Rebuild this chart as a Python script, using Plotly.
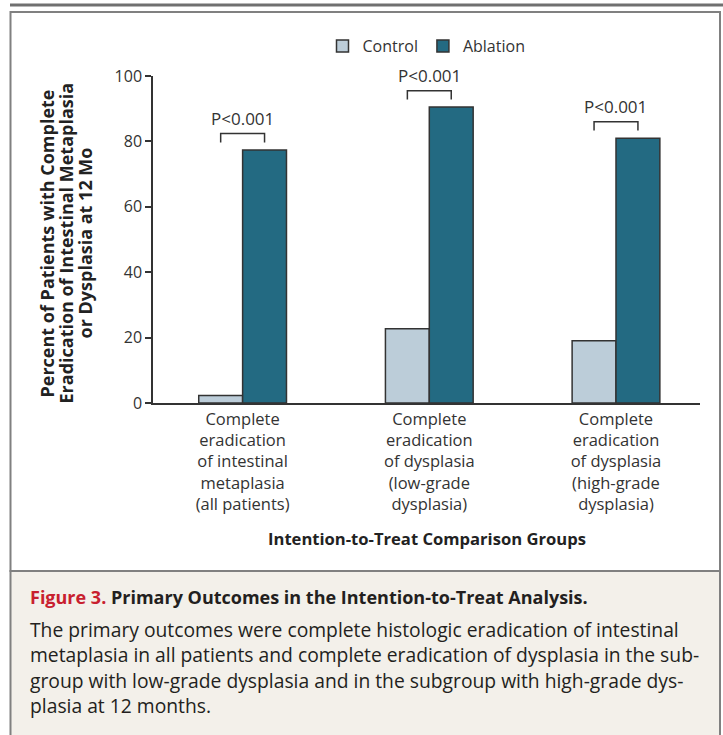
import plotly.graph_objects as go

# ---- data ----
categories = [
    "Complete<br>eradication<br>of intestinal<br>metaplasia<br>(all patients)",
    "Complete<br>eradication<br>of dysplasia<br>(low-grade<br>dysplasia)",
    "Complete<br>eradication<br>of dysplasia<br>(high-grade<br>dysplasia)",
]
control = [2.3, 22.7, 19.0]
ablation = [77.4, 90.5, 81.0]
p_labels = ["P<0.001", "P<0.001", "P<0.001"]
y_ticks = [0, 20, 40, 60, 80, 100]
y_title_lines = [
    "Percent of Patients with Complete",
    "Eradication of Intestinal Metaplasia",
    "or Dysplasia at 12 Mo",
]
x_title = "Intention-to-Treat Comparison Groups"
cap_label = "Figure 3."
cap_title = "Primary Outcomes in the Intention-to-Treat Analysis."
cap_lines = [
    "The primary outcomes were complete histologic eradication of intestinal",
    "metaplasia in all patients and complete eradication of dysplasia in the sub-",
    "group with low-grade dysplasia and in the subgroup with high-grade dys-",
    "plasia at 12 months.",
]

# ---- layout geometry (pixels) ----
W, H = 723, 735
L, R, T, B = 153, 23, 76, 332
PW, PH = W - L - R, H - T - B
FONT = "'Open Sans', 'Noto Sans', sans-serif"
TXT = "#333333"
BARGAP = 0.53


def px(x):
    return (x - L) / PW


def py(y):
    return (H - B - y) / PH


fig = go.Figure()
fig.add_trace(go.Bar(name="Control", x=categories, y=control,
                     marker=dict(color="#bccdd9", line=dict(color="#333333", width=1.5))))
fig.add_trace(go.Bar(name="Ablation", x=categories, y=ablation,
                     marker=dict(color="#236a82", line=dict(color="#333333", width=1.5))))

shapes = []
annotations = []
off = (1 - BARGAP) / 4
for i, (a, p) in enumerate(zip(ablation, p_labels)):
    yb = a + 5.0
    yt = yb - 2.7
    x0, x1 = i - off, i + off
    shapes.append(dict(type="path", xref="x", yref="y",
                       path=f"M {x0} {yt} L {x0} {yb} L {x1} {yb} L {x1} {yt}",
                       line=dict(color="#333333", width=1.5)))
    annotations.append(dict(x=i, y=yb, xref="x", yref="y", text=p, showarrow=False,
                            yanchor="bottom", yshift=2, font=dict(size=17, color=TXT, family=FONT)))

# frame: top rule, chart box, caption box
shapes.append(dict(type="line", xref="paper", yref="paper", x0=px(10), x1=px(723), y0=py(5), y1=py(5),
                   line=dict(color="#707070", width=3), layer="below"))
shapes.append(dict(type="rect", xref="paper", yref="paper", x0=px(10.5), x1=px(720), y0=py(571), y1=py(12),
                   line=dict(color="#808080", width=2), fillcolor="white", layer="below"))
shapes.append(dict(type="rect", xref="paper", yref="paper", x0=px(10.5), x1=px(720), y0=py(745), y1=py(571),
                   line=dict(color="#808080", width=2), fillcolor="#f3f0ea", layer="below"))

# y-axis title (three rotated lines)
for k, line in enumerate(y_title_lines):
    annotations.append(dict(xref="paper", yref="paper", x=px(46 + 19 * k), y=py(243.5), textangle=-90,
                            text=f"<b>{line}</b>", showarrow=False, xanchor="center", yanchor="middle",
                            font=dict(size=18, color="#222222", family=FONT)))
annotations.append(dict(xref="paper", yref="paper", x=px(427), y=py(538),
                        text=f"<b>{x_title}</b>", showarrow=False, xanchor="center", yanchor="middle",
                        font=dict(size=16.6, color="#222222", family=FONT)))

# caption
annotations.append(dict(xref="paper", yref="paper", x=px(28), y=py(597),
                        text=f"<b><span style='color:#c8202f'>{cap_label}</span> {cap_title}</b>",
                        showarrow=False, xanchor="left", yanchor="middle",
                        font=dict(size=18, color="#231f20", family=FONT)))
for k, line in enumerate(cap_lines):
    annotations.append(dict(xref="paper", yref="paper", x=px(28), y=py(629 + 25.5 * k),
                            text=line, showarrow=False, xanchor="left", yanchor="middle",
                            font=dict(size=19.3, color="#231f20", family=FONT)))

fig.update_layout(
    width=W, height=H,
    margin=dict(l=L, r=R, t=T, b=B),
    paper_bgcolor="white", plot_bgcolor="rgba(0,0,0,0)",
    barmode="group", bargap=BARGAP, bargroupgap=0,
    font=dict(family=FONT, size=16, color=TXT),
    showlegend=True,
    legend=dict(orientation="h", x=0.5, xanchor="center", y=py(46), yanchor="middle",
                font=dict(size=16, color=TXT), bgcolor="rgba(0,0,0,0)"),
    shapes=shapes, annotations=annotations,
    xaxis=dict(range=[-0.48, 2.45], showline=True, linecolor="#333333", linewidth=1.5,
               ticks="", showgrid=False, zeroline=False, tickfont=dict(size=16.5, color=TXT)),
    yaxis=dict(range=[0, 100], tickvals=y_ticks, showline=True, linecolor="#333333", linewidth=1.5,
               ticks="outside", ticklen=6, tickwidth=1.5, tickcolor="#333333",
               showgrid=False, zeroline=False, tickfont=dict(size=16, color=TXT)),
)

fig.write_html("out.html", config={"displayModeBar": False},
               post_script="document.body.style.margin='0';")
